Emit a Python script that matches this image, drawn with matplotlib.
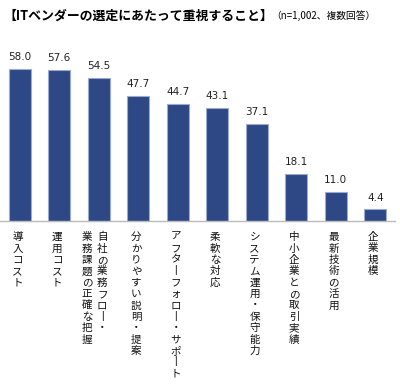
import matplotlib.pyplot as plt
from matplotlib.transforms import blended_transform_factory

plt.rcParams['font.family'] = ['Noto Sans CJK JP', 'DejaVu Sans']

labels = [
    ['導入コスト'],
    ['運用コスト'],
    ['自社の業務フロー・', '業務課題の正確な把握'],
    ['分かりやすい説明・提案'],
    ['アフターフォロー・サポート'],
    ['柔軟な対応'],
    ['システム運用・保守能力'],
    ['中小企業との取引実績'],
    ['最新技術の活用'],
    ['企業規模'],
]
values = [58.0, 57.6, 54.5, 47.7, 44.7, 43.1, 37.1, 18.1, 11.0, 4.4]

bar_color = '#2D4885'
edge_color = '#9AAAD0'


def vertical_label(ax, x, col_text, dx_pt):
    # stack characters top to bottom, one per line
    trans = blended_transform_factory(ax.transData, ax.transAxes)
    pitch = 8.2
    for k, ch in enumerate(col_text):
        if ch == 'ー':
            ch = '丨'  # upright long vowel mark for vertical text
        ax.annotate(ch, xy=(x, 0), xycoords=trans,
                    xytext=(dx_pt, -8 - k * pitch), textcoords='offset points',
                    ha='center', va='top', fontsize=7.6, color='#111111')


fig = plt.figure(figsize=(4, 3.9), dpi=100)
ax = fig.add_axes([0, (390 - 221) / 390, 395 / 400, 181 / 390])

x = list(range(len(values)))
bars = ax.bar(x, values, width=0.55, color=bar_color, edgecolor=edge_color, linewidth=0.8)
for xi, v in zip(x, values):
    ax.annotate(f'{v:.1f}', xy=(xi, v), xytext=(0, 5), textcoords='offset points',
                ha='center', va='bottom', fontsize=7.5, color='#222222',
                family='DejaVu Sans')

ax.set_xlim(-0.5, 9.5)
ax.set_ylim(0, 69)
for s in ['top', 'right', 'left']:
    ax.spines[s].set_visible(False)
ax.spines['bottom'].set_color('#BBBBBB')
ax.spines['bottom'].set_linewidth(1.0)
ax.set_xticks([])
ax.set_yticks([])

for xi, cols in zip(x, labels):
    if len(cols) == 1:
        vertical_label(ax, xi, cols[0], -1.5)
    else:
        # first column on the right, as in vertical Japanese writing
        vertical_label(ax, xi, cols[0], 2.5)
        vertical_label(ax, xi, cols[1], -8.5)

fig.text(3 / 400, 1 - 16 / 390, '【ITベンダーの選定にあたって重視すること】',
         fontsize=9.3, fontweight='bold', va='center', ha='left')
fig.text(271 / 400, 1 - 16 / 390, '（n=1,002、複数回答）',
         fontsize=7, va='center', ha='left')

fig.savefig('out.png', dpi=100)
